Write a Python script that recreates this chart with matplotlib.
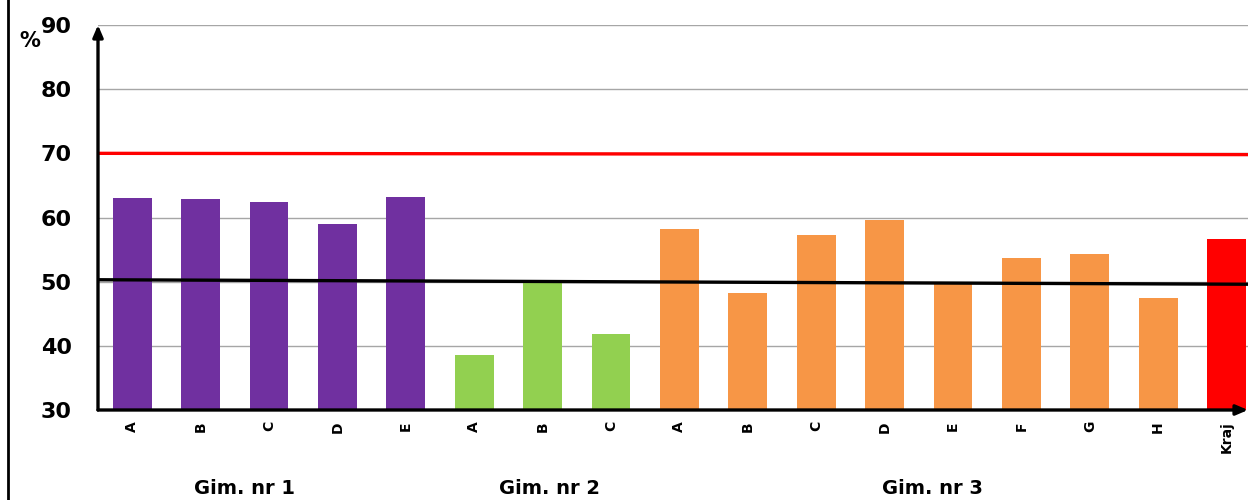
import matplotlib
matplotlib.use("Agg")
import matplotlib.pyplot as plt
import matplotlib.transforms as mtransforms
from matplotlib.lines import Line2D

# Data
labels = ["A", "B", "C", "D", "E",
          "A", "B", "C",
          "A", "B", "C", "D", "E", "F", "G", "H",
          "Kraj"]
values = [63.0, 62.9, 62.4, 59.0, 63.2,
          38.6, 49.9, 41.8,
          58.2, 48.2, 57.3, 59.6, 49.8, 53.7, 54.3, 47.4,
          56.6]
groups = ["Gim. nr 1", "Gim. nr 2", "Gim. nr 3"]
group_sizes = [5, 3, 8]
group_colors = ["#7030A0", "#92D050", "#F79646"]
total_color = "#FF0000"
red_line = [70.0, 69.8]     # start / end value of the red reference line
black_line = [50.3, 49.6]   # start / end value of the black reference line

colors = []
for c, n in zip(group_colors, group_sizes):
    colors += [c] * n
colors.append(total_color)

fig = plt.figure(figsize=(12.48, 5), dpi=100)
ax = fig.add_axes([98 / 1248, 90 / 500, 1150 / 1248, 385 / 500])

x = list(range(len(values)))
xmax = (1248 - 98) / 68.4 - 0.5
ax.bar(x, [v - 30 for v in values], bottom=30, width=0.57, color=colors, zorder=2)

ax.set_xlim(-0.5, xmax)
ax.set_ylim(30, 90)
ax.set_yticks([30, 40, 50, 60, 70, 80, 90])
for yv in [40, 50, 60, 70, 80, 90]:
    ax.axhline(yv, color="#a6a6a6", lw=1.0, zorder=1)

ax.plot([-0.5, xmax], red_line, color="#FF0000", lw=2.4, zorder=3)
ax.plot([-0.5, xmax], black_line, color="black", lw=2.4, zorder=4)

for s in ax.spines.values():
    s.set_visible(False)

# axis arrows
ax.annotate("", xy=(0, 1.0), xytext=(0, 0), xycoords="axes fraction",
            arrowprops=dict(arrowstyle="-|>,head_length=0.7,head_width=0.3",
                            color="black", lw=2.4, shrinkA=0, shrinkB=0), zorder=5)
ax.annotate("", xy=(1.0, 0), xytext=(0, 0), xycoords="axes fraction",
            arrowprops=dict(arrowstyle="-|>,head_length=0.7,head_width=0.3",
                            color="black", lw=2.4, shrinkA=0, shrinkB=0), zorder=5)

ax.tick_params(axis="both", length=0)
ax.tick_params(axis="y", pad=19, labelsize=16)
ax.tick_params(axis="x", pad=8, labelsize=10)
ax.set_xticks(x)
ax.set_xticklabels(labels, rotation=90, fontweight="bold", va="top")
for t in ax.get_yticklabels():
    t.set_fontweight("bold")

fig.text(30 / 1248, 1 - 41 / 500, "%", fontsize=15, fontweight="bold",
         ha="center", va="center")

# group labels
trans = mtransforms.blended_transform_factory(ax.transData, fig.transFigure)
group_pos = [1.64, 6.1, 11.7]
for name, gx in zip(groups, group_pos):
    ax.text(gx, 12 / 500, name, transform=trans, ha="center", va="center",
            fontsize=14, fontweight="bold")

# left frame border
fig.add_artist(Line2D([7.5 / 1248, 7.5 / 1248], [0, 1], color="black", lw=2,
                      transform=fig.transFigure))

fig.savefig("out.png", dpi=100)
